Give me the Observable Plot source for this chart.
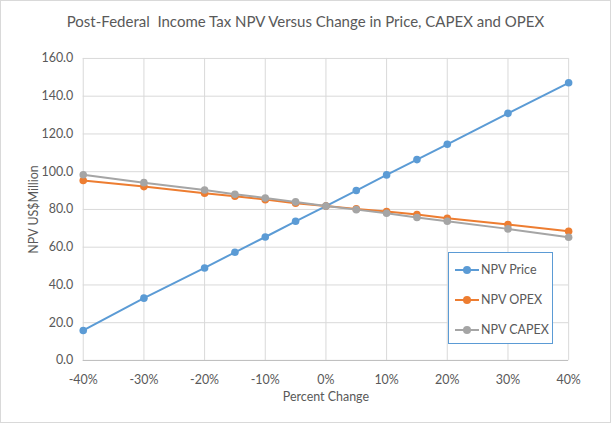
<!DOCTYPE html>
<html>
<head>
<meta charset="utf-8">
<script src="https://cdn.jsdelivr.net/npm/d3@7"></script>
<script src="https://cdn.jsdelivr.net/npm/@observablehq/plot@0.6"></script>
<style>
  html, body { margin: 0; padding: 0; background: #fff; }
  #wrap { position: relative; width: 609px; height: 421px; border: 1px solid #d9d9d9; background: #fff; overflow: hidden; font-family: Lato, "Open Sans", sans-serif; }
  #title { height: 40px; line-height: 40px; text-align: center; font-size: 15px; color: #595959; }
  #legend { position: absolute; left: 447px; top: 251px; width: 105px; height: 92px; border: 1px solid #5b9bd5; background: #fff; box-sizing: border-box; font-size: 12.5px; color: #595959; }
  .item { position: absolute; left: 6px; display: flex; align-items: center; white-space: nowrap; }
  .sw { position: relative; width: 24px; height: 12px; margin-right: 2px; flex: none; }
  .sw .ln { position: absolute; left: 0; right: 0; top: 5px; height: 2px; }
  .sw .dt { position: absolute; left: 8px; top: 2px; width: 8px; height: 8px; border-radius: 50%; }
</style>
</head>
<body>
<div id="wrap">
  <div id="title">Post-Federal&nbsp; Income Tax NPV Versus Change in Price, CAPEX and OPEX</div>
  <div id="chart"></div>
  <div id="legend"></div>
</div>
<script>
const pctChange = [-40, -30, -20, -15, -10, -5, 0, 5, 10, 15, 20, 30, 40];
const npvPrice = [15.9, 33.0, 49.0, 57.3, 65.4, 73.7, 81.8, 90.0, 98.3, 106.4, 114.5, 130.9, 147.1];
const npvOpex  = [95.3, 92.1, 88.6, 87.0, 85.2, 83.3, 81.8, 80.3, 78.9, 77.3, 75.3, 72.0, 68.4];
const npvCapex = [98.4, 94.2, 90.3, 88.0, 86.1, 84.0, 81.8, 79.9, 78.0, 75.7, 73.7, 69.7, 65.3];
const seriesNames = ["NPV Price", "NPV OPEX", "NPV CAPEX"];
const seriesColors = ["#5b9bd5", "#ed7d31", "#a5a5a5"];
const xTicks = [-40, -30, -20, -10, 0, 10, 20, 30, 40];
const yTicks = [0, 20, 40, 60, 80, 100, 120, 140, 160];

const seriesValues = [npvPrice, npvOpex, npvCapex];
const rows = [];
seriesNames.forEach((name, i) => {
  pctChange.forEach((p, j) => rows.push({series: name, pct: p, npv: seriesValues[i][j]}));
});

const marks = [
  Plot.gridX(xTicks, {stroke: "#d9d9d9", strokeOpacity: 1, strokeWidth: 1}),
  Plot.gridY(yTicks, {stroke: "#d9d9d9", strokeOpacity: 1, strokeWidth: 1}),
  Plot.ruleY([0], {stroke: "#bfbfbf", strokeWidth: 1}),
  Plot.axisX(xTicks, {tickSize: 0, tickPadding: 15, tickFormat: d => d + "%", fontSize: 12.5, fill: "#595959",
    label: "Percent Change", labelAnchor: "center", labelArrow: "none", labelOffset: 41}),
  Plot.axisY(yTicks, {tickSize: 0, tickPadding: 10, tickFormat: d3.format(".1f"), fontSize: 12.5, fill: "#595959",
    label: "NPV US$Million", labelAnchor: "center", labelArrow: "none", labelOffset: 54})
];
seriesNames.forEach((name, i) => {
  const d = rows.filter(r => r.series === name);
  marks.push(Plot.line(d, {x: "pct", y: "npv", stroke: seriesColors[i], strokeWidth: 2}));
  marks.push(Plot.dot(d, {x: "pct", y: "npv", fill: seriesColors[i], r: 3.8}));
});

const plot = Plot.plot({
  width: 611,
  height: 383,
  marginLeft: 82,
  marginRight: 42,
  marginTop: 17,
  marginBottom: 63,
  style: {fontFamily: "Lato, 'Open Sans', sans-serif", fontSize: "13px", color: "#595959", background: "transparent"},
  x: {domain: [-40, 40]},
  y: {domain: [0, 160]},
  marks
});
document.getElementById("chart").appendChild(plot);

const legend = document.getElementById("legend");
seriesNames.forEach((name, i) => {
  const it = document.createElement("div");
  it.className = "item";
  it.style.top = (9 + i * 30) + "px";
  it.innerHTML = `<div class="sw"><div class="ln" style="background:${seriesColors[i]}"></div><div class="dt" style="background:${seriesColors[i]}"></div></div><span>${name}</span>`;
  legend.appendChild(it);
});
</script>
</body>
</html>
